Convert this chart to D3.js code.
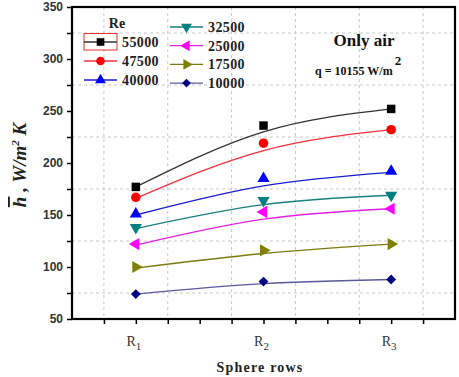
<!DOCTYPE html>
<html>
<head>
<meta charset="utf-8">
<script src="https://cdn.jsdelivr.net/npm/d3@7"></script>
<style>
  body { margin: 0; background: #fff; }
  svg { display: block; }
</style>
</head>
<body>
<div id="container"></div>
<script>
/***** data *****/
let rows = [1, 2, 3];
let rowLabels = ["1", "2", "3"];
let reValues = ["55000", "47500", "40000", "32500", "25000", "17500", "10000"];

// measured points (R1, R2, R3)
let h55000 = [177, 236, 252];
let h47500 = [167, 219, 232];
let h40000 = [151, 185, 192];
let h32500 = [138, 164, 169];
let h25000 = [122, 153, 156];
let h17500 = [100, 116, 122];
let h10000 = [74, 86, 88];

// fitted curve values (R1, R2, R3)
let fit55000 = [177, 230, 252];
let fit47500 = [166, 212, 232];
let fit40000 = [150, 178, 191];
let fit32500 = [137, 160, 169];
let fit25000 = [121, 146, 156];
let fit17500 = [99, 113, 122];
let fit10000 = [74, 84, 88];

let yTicks = [50, 100, 150, 200, 250, 300, 350];

/***** chart *****/
var margin = {top: 7, right: 4, bottom: 58, left: 72},
    width = 459 - margin.left - margin.right,
    height = 377 - margin.top - margin.bottom;

let svg = d3.select("#container")
  .append("svg")
    .attr("width", 459)
    .attr("height", 377);

let viz = svg.append("g")
  .attr("transform", "translate(" + margin.left + "," + margin.top + ")");

var x = d3.scaleLinear().domain([0.5, 3.5]).range([0, width]);
var y = d3.scaleLinear().domain([50, 350]).range([height, 0]);

// grid (dashed, at the in-between values)
let gx = d3.range(0.75, 3.5, 0.5);
let gy = d3.range(75, 350, 50);
viz.append("g").selectAll("line").data(gx).join("line")
  .attr("x1", d => x(d)).attr("x2", d => x(d))
  .attr("y1", 0).attr("y2", height)
  .attr("stroke", "#c8c8c8").attr("stroke-dasharray", "3,3");
viz.append("g").selectAll("line").data(gy).join("line")
  .attr("x1", 0).attr("x2", width)
  .attr("y1", d => y(d)).attr("y2", d => y(d))
  .attr("stroke", "#c8c8c8").attr("stroke-dasharray", "3,3");

// series
let series = [
  {name: reValues[0], pts: h55000, fit: fit55000, color: "#000000", line: "#333333", sym: d3.symbolSquare, rot: 0, size: 72},
  {name: reValues[1], pts: h47500, fit: fit47500, color: "#ff0000", line: "#f03040", sym: d3.symbolCircle, rot: 0, size: 72},
  {name: reValues[2], pts: h40000, fit: fit40000, color: "#0000ff", line: "#1a1ad0", sym: d3.symbolTriangle, rot: 0, size: 64},
  {name: reValues[3], pts: h32500, fit: fit32500, color: "#008080", line: "#1a7f80", sym: d3.symbolTriangle, rot: 180, size: 64},
  {name: reValues[4], pts: h25000, fit: fit25000, color: "#ff00ff", line: "#e020e0", sym: d3.symbolTriangle, rot: -90, size: 64},
  {name: reValues[5], pts: h17500, fit: fit17500, color: "#808000", line: "#7a7a10", sym: d3.symbolTriangle, rot: 90, size: 64},
  {name: reValues[6], pts: h10000, fit: fit10000, color: "#000080", line: "#5a5a9a", sym: d3.symbolSquare, rot: 45, size: 48}
];

let line = d3.line()
  .x((d, i) => x(rows[i]))
  .y(d => y(d))
  .curve(d3.curveNatural);

series.forEach(s => {
  viz.append("path")
    .datum(s.fit)
    .attr("fill", "none")
    .attr("stroke", s.line)
    .attr("stroke-width", 1.3)
    .attr("d", line);
  viz.append("g").selectAll("path").data(s.pts).join("path")
    .attr("d", d3.symbol().type(s.sym).size(s.size))
    .attr("transform", (d, i) => "translate(" + x(rows[i]) + "," + y(d) + ") rotate(" + s.rot + ")")
    .attr("fill", s.color);
});

// axes
let xAxis = viz.append("g")
  .attr("transform", "translate(0," + height + ")")
  .call(d3.axisBottom(x).tickValues(d3.range(0.75, 3.5, 0.25)).tickSize(5).tickFormat(""));
let yAxis = viz.append("g")
  .call(d3.axisLeft(y).tickValues(d3.range(50, 351, 25)).tickSize(5)
    .tickFormat(d => yTicks.includes(d) ? d : ""));
[xAxis, yAxis].forEach(a => {
  a.select(".domain").remove();
  a.selectAll("line").attr("stroke", "#000").attr("stroke-width", 1.5);
});
yAxis.selectAll("text")
  .attr("font-family", "Liberation Sans, Arial, sans-serif")
  .attr("font-weight", "bold")
  .attr("font-size", 12)
  .attr("fill", "#333")
  .attr("x", -9);

// frame
viz.append("rect")
  .attr("width", width).attr("height", height)
  .attr("fill", "none").attr("stroke", "#000").attr("stroke-width", 2.2);

// x tick labels R with subscript
let xl = viz.append("g").selectAll("text").data(rows).join("text")
  .attr("x", d => x(d) - 2)
  .attr("y", height + 27)
  .attr("text-anchor", "middle")
  .attr("font-family", "Liberation Serif, Times New Roman, serif")
  .attr("font-size", 14)
  .attr("fill", "#333");
xl.append("tspan").text("R");
xl.append("tspan").attr("dy", 4).attr("font-size", 11).text((d, i) => rowLabels[i]);

// axis titles
svg.append("text")
  .attr("x", 260).attr("y", 372)
  .attr("text-anchor", "middle")
  .attr("font-family", "Liberation Serif, Times New Roman, serif")
  .attr("font-weight", "bold")
  .attr("font-size", 14)
  .attr("letter-spacing", 1.2)
  .attr("fill", "#222")
  .text("Sphere rows");

let yt = svg.append("text")
  .attr("transform", "translate(26,165) rotate(-90)")
  .attr("text-anchor", "middle")
  .attr("font-family", "Liberation Serif, Times New Roman, serif")
  .attr("font-weight", "bold")
  .attr("font-style", "italic")
  .attr("font-size", 19)
  .attr("fill", "#222");
yt.append("tspan").attr("text-decoration", "overline").text("h");
yt.append("tspan").text(" , W/m");
yt.append("tspan").attr("dy", -7).attr("font-size", 11).text("2");
yt.append("tspan").attr("dy", 7).text(" K");

// legend
let lg = svg.append("g")
  .attr("font-family", "Liberation Serif, Times New Roman, serif")
  .attr("font-weight", "bold")
  .attr("font-size", 14)
  .attr("fill", "#222");
lg.append("text").attr("x", 117).attr("y", 28).attr("text-anchor", "middle").text("Re");
lg.append("rect").attr("x", 84).attr("y", 33.5).attr("width", 33).attr("height", 16.5)
  .attr("fill", "none").attr("stroke", "#e03030").attr("stroke-width", 1);

series.forEach((s, i) => {
  let col = i < 3 ? 0 : 1;
  let lx = col === 0 ? 84 : 170;
  let ly = col === 0 ? 42 + i * 19 : 27 + (i - 3) * 18.7;
  lg.append("line")
    .attr("x1", lx).attr("x2", lx + 33).attr("y1", ly).attr("y2", ly)
    .attr("stroke", s.line).attr("stroke-width", 1.3);
  lg.append("path")
    .attr("d", d3.symbol().type(s.sym).size(s.size * 0.8))
    .attr("transform", "translate(" + (lx + 16.5) + "," + ly + ") rotate(" + s.rot + ")")
    .attr("fill", s.color);
  lg.append("text").attr("x", lx + 38).attr("y", ly + 5).attr("letter-spacing", 0.4).text(s.name);
});

// annotation
svg.append("text")
  .attr("x", 364).attr("y", 46)
  .attr("text-anchor", "middle")
  .attr("font-family", "Liberation Serif, Times New Roman, serif")
  .attr("font-weight", "bold")
  .attr("font-size", 17)
  .attr("fill", "#111")
  .text("Only air");
let q = svg.append("text")
  .attr("x", 315).attr("y", 75)
  .attr("font-family", "Liberation Serif, Times New Roman, serif")
  .attr("font-weight", "bold")
  .attr("font-size", 12)
  .attr("fill", "#111");
q.append("tspan").text("q = 10155 W/m");
q.append("tspan").attr("dy", -10).attr("dx", 2).attr("font-size", 13).text("2");
</script>
</body>
</html>
